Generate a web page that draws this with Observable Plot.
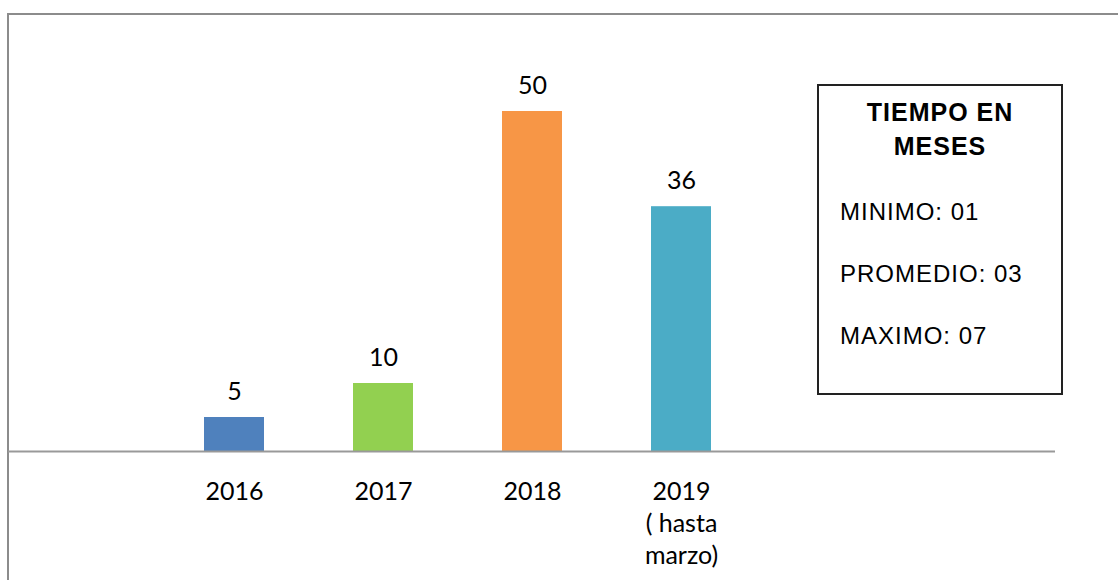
<!DOCTYPE html>
<html>
<head>
<meta charset="utf-8">
<script src="https://cdn.jsdelivr.net/npm/d3@7"></script>
<script src="https://cdn.jsdelivr.net/npm/@observablehq/plot@0.6"></script>
<style>
  html, body { margin: 0; padding: 0; background: #fff; }
  #wrap { position: relative; width: 1118px; height: 580px; overflow: hidden; }
  #frame { position: absolute; left: 7px; top: 12.5px; width: 1200px; height: 700px;
           border-left: 2px solid #8c8c8c; border-top: 2px solid #8c8c8c; }
  #chart { position: absolute; left: 0; top: 0; }
  #legend { position: absolute; left: 817px; top: 84px; width: 242px; height: 307px;
            border: 2px solid #222; box-sizing: content-box;
            font-family: "Liberation Sans", Arial, sans-serif; color: #000; }
  #legend div { position: absolute; font-size: 24px; line-height: 24px; white-space: nowrap; letter-spacing: 1px; }
  #legend .t { font-weight: bold; font-size: 25px; line-height: 25px; left: 0; width: 242px; text-align: center; }
  #legend .l { left: 21px; }
</style>
</head>
<body>
<div id="wrap">
  <div id="frame"></div>
  <div id="chart"></div>
  <div id="legend"></div>
</div>
<script>
const categories = ["2016", "2017", "2018", "2019"];
const tickLabels = ["2016", "2017", "2018", "2019\n( hasta\nmarzo)"];
const values = [5, 10, 50, 36];
const colors = ["#4F81BD", "#92D050", "#F79646", "#4BACC6"];
const legendTitle = ["TIEMPO EN", "MESES"];
const legendLines = ["MINIMO: 01", "PROMEDIO: 03", "MAXIMO: 07"];

const data = categories.map((c, i) => ({cat: c, value: values[i], color: colors[i]}));
const labelOf = new Map(categories.map((c, i) => [c, tickLabels[i]]));

const chart = Plot.plot({
  width: 1118,
  height: 580,
  marginLeft: 8,
  marginRight: 63,
  marginTop: 111,
  marginBottom: 129,
  style: {fontFamily: "Lato, 'Open Sans', sans-serif", fontSize: "25px", color: "#000", background: "transparent"},
  x: {type: "band", domain: categories, range: [157.6, 756], paddingInner: 0.6, paddingOuter: 0.3},
  y: {domain: [0, 50], axis: null},
  marks: [
    Plot.barY(data, {x: "cat", y: "value", fill: "color"}),
    Plot.ruleY([0], {stroke: "#999", strokeWidth: 2}),
    Plot.text(data, {x: "cat", y: "value", text: d => String(d.value), dy: -26, fontSize: 25, fill: "#000"}),
    Plot.axisX({tickSize: 0, tickPadding: 26, fontSize: 25, lineHeight: 1.27, tickFormat: d => labelOf.get(d), label: null, fill: "#000"})
  ]
});
document.getElementById("chart").appendChild(chart);

// Legend box (text only)
const legend = document.getElementById("legend");
const titleBaselines = [121, 155];
const lineBaselines = [220, 282, 344];
legendTitle.forEach((t, i) => {
  const d = document.createElement("div");
  d.className = "t";
  d.textContent = t;
  d.style.top = (titleBaselines[i] - 86 - 21.2) + "px";
  legend.appendChild(d);
});
legendLines.forEach((t, i) => {
  const d = document.createElement("div");
  d.className = "l";
  d.textContent = t;
  d.style.top = (lineBaselines[i] - 86 - 20.3) + "px";
  legend.appendChild(d);
});
</script>
</body>
</html>
